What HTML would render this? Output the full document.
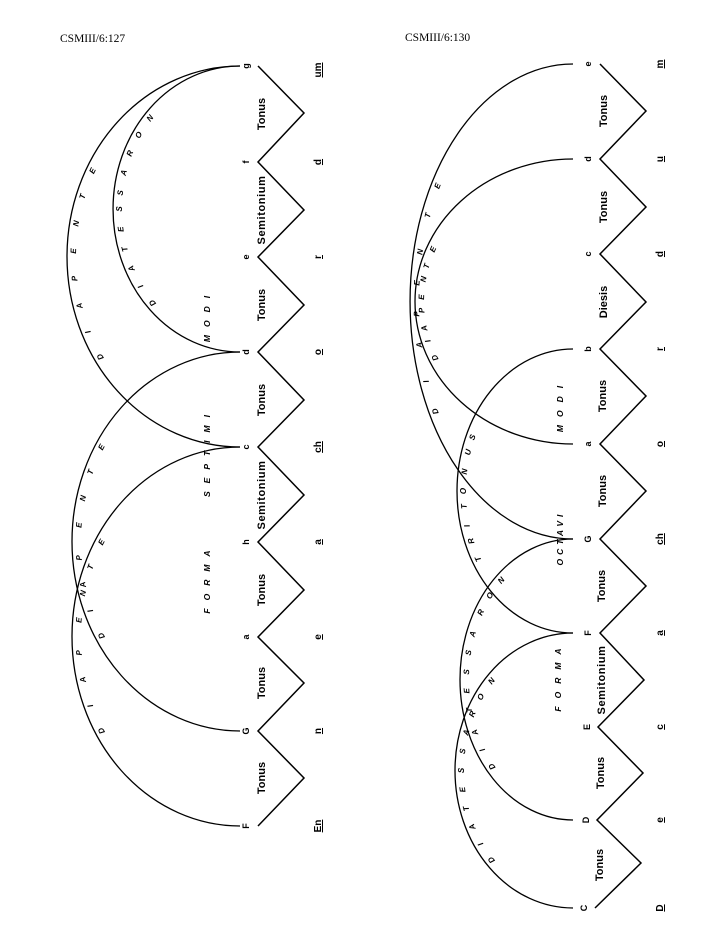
<!DOCTYPE html>
<html><head><meta charset="utf-8"><style>
html,body{margin:0;padding:0;background:#fff;}
svg{display:block}
.a{fill:none;stroke:#000;stroke-width:1.3}
.z{fill:none;stroke:#000;stroke-width:1.5}
.t{font-family:"Liberation Sans",sans-serif;font-weight:bold;font-size:11px;fill:#000}
.n{font-family:"Liberation Sans",sans-serif;font-weight:bold;font-size:9px;fill:#000}
.b{font-family:"Liberation Sans",sans-serif;font-weight:bold;font-size:10px;fill:#000;text-decoration:underline}
.l{font-family:"Liberation Sans",sans-serif;font-weight:bold;font-style:italic;font-size:8px;fill:#000}
.w{font-family:"Liberation Sans",sans-serif;font-weight:bold;font-style:italic;font-size:8.5px;fill:#000;letter-spacing:8px}
.h{font-family:"Liberation Serif",serif;font-size:11.5px;fill:#000}
</style></head><body>
<svg width="720" height="936" viewBox="0 0 720 936" xmlns="http://www.w3.org/2000/svg">
<defs>
<path id="p1" d="M240,826 A168,189.5 0 0 1 240,447"/>
<path id="p2" d="M240,731 A168,189.5 0 0 1 240,352"/>
<path id="p3" d="M240,447 A173,190.5 0 0 1 240,66"/>
<path id="p4" d="M240,352 A127,143 0 0 1 240,66"/>
<path id="q1" d="M573,539 A163,237.5 0 0 1 573,64"/>
<path id="q2" d="M573,444 A158,142.5 0 0 1 573,159"/>
<path id="q3" d="M573,633 A116,142 0 0 1 573,349"/>
<path id="q4" d="M573,820 A113,140.5 0 0 1 573,539"/>
<path id="q5" d="M573,908 A118,137.5 0 0 1 573,633"/>
</defs>
<text class="h" x="60" y="42">CSMIII/6:127</text>
<text class="h" x="405" y="41">CSMIII/6:130</text>

<use href="#p1" class="a"/><use href="#p2" class="a"/><use href="#p3" class="a"/><use href="#p4" class="a"/>
<use href="#q1" class="a"/><use href="#q2" class="a"/><use href="#q3" class="a"/><use href="#q4" class="a"/><use href="#q5" class="a"/>

<polyline class="z" points="258,66 304,113 258,162 304,210 258,257 304,305 258,352 304,400 258,447 304,495 258,542 304,590 258,637 304,683 258,731 304,778 258,826"/>
<polyline class="z" points="600,64 646,111 600,159 646,207 600,254 646,302 600,349 646,396 600,444 646,491 600,539 646,586 600,633 644,680 598,727 643,773 597,820 641,863 595,908"/>

<g class="l" text-anchor="middle">
<text dy="9"><textPath href="#p1" startOffset="32%">D</textPath></text><text dy="9"><textPath href="#p1" startOffset="37%">I</textPath></text><text dy="9"><textPath href="#p1" startOffset="42%">A</textPath></text><text dy="9"><textPath href="#p1" startOffset="47%">P</textPath></text><text dy="9"><textPath href="#p1" startOffset="53%">E</textPath></text><text dy="9"><textPath href="#p1" startOffset="58%">N</textPath></text><text dy="9"><textPath href="#p1" startOffset="63%">T</textPath></text><text dy="9"><textPath href="#p1" startOffset="68%">E</textPath></text>
<text dy="9"><textPath href="#p2" startOffset="32%">D</textPath></text><text dy="9"><textPath href="#p2" startOffset="37%">I</textPath></text><text dy="9"><textPath href="#p2" startOffset="42%">A</textPath></text><text dy="9"><textPath href="#p2" startOffset="47%">P</textPath></text><text dy="9"><textPath href="#p2" startOffset="53%">E</textPath></text><text dy="9"><textPath href="#p2" startOffset="58%">N</textPath></text><text dy="9"><textPath href="#p2" startOffset="63%">T</textPath></text><text dy="9"><textPath href="#p2" startOffset="68%">E</textPath></text>
<text dy="9"><textPath href="#p3" startOffset="31%">D</textPath></text><text dy="9"><textPath href="#p3" startOffset="36%">I</textPath></text><text dy="9"><textPath href="#p3" startOffset="41%">A</textPath></text><text dy="9"><textPath href="#p3" startOffset="46%">P</textPath></text><text dy="9"><textPath href="#p3" startOffset="51%">E</textPath></text><text dy="9"><textPath href="#p3" startOffset="56%">N</textPath></text><text dy="9"><textPath href="#p3" startOffset="61%">T</textPath></text><text dy="9"><textPath href="#p3" startOffset="66%">E</textPath></text>
<text dy="9"><textPath href="#p4" startOffset="25%">D</textPath></text><text dy="9"><textPath href="#p4" startOffset="30%">I</textPath></text><text dy="9"><textPath href="#p4" startOffset="35%">A</textPath></text><text dy="9"><textPath href="#p4" startOffset="40%">T</textPath></text><text dy="9"><textPath href="#p4" startOffset="45%">E</textPath></text><text dy="9"><textPath href="#p4" startOffset="50%">S</textPath></text><text dy="9"><textPath href="#p4" startOffset="54%">S</textPath></text><text dy="9"><textPath href="#p4" startOffset="59%">A</textPath></text><text dy="9"><textPath href="#p4" startOffset="64%">R</textPath></text><text dy="9"><textPath href="#p4" startOffset="69%">O</textPath></text><text dy="9"><textPath href="#p4" startOffset="74%">N</textPath></text>
<text dy="9"><textPath href="#q1" startOffset="32%">D</textPath></text><text dy="9"><textPath href="#q1" startOffset="37%">I</textPath></text><text dy="9"><textPath href="#q1" startOffset="43%">A</textPath></text><text dy="9"><textPath href="#q1" startOffset="48%">P</textPath></text><text dy="9"><textPath href="#q1" startOffset="53%">E</textPath></text><text dy="9"><textPath href="#q1" startOffset="58%">N</textPath></text><text dy="9"><textPath href="#q1" startOffset="64%">T</textPath></text><text dy="9"><textPath href="#q1" startOffset="69%">E</textPath></text>
<text dy="9"><textPath href="#q2" startOffset="37%">D</textPath></text><text dy="9"><textPath href="#q2" startOffset="41%">I</textPath></text><text dy="9"><textPath href="#q2" startOffset="44%">A</textPath></text><text dy="9"><textPath href="#q2" startOffset="48%">P</textPath></text><text dy="9"><textPath href="#q2" startOffset="51%">E</textPath></text><text dy="9"><textPath href="#q2" startOffset="55%">N</textPath></text><text dy="9"><textPath href="#q2" startOffset="58%">T</textPath></text><text dy="9"><textPath href="#q2" startOffset="62%">E</textPath></text>
<text dy="9"><textPath href="#q3" startOffset="32%">T</textPath></text><text dy="9"><textPath href="#q3" startOffset="37%">R</textPath></text><text dy="9"><textPath href="#q3" startOffset="41%">I</textPath></text><text dy="9"><textPath href="#q3" startOffset="46%">T</textPath></text><text dy="9"><textPath href="#q3" startOffset="50%">O</textPath></text><text dy="9"><textPath href="#q3" startOffset="55%">N</textPath></text><text dy="9"><textPath href="#q3" startOffset="60%">U</textPath></text><text dy="9"><textPath href="#q3" startOffset="64%">S</textPath></text>
<text dy="9"><textPath href="#q4" startOffset="26%">D</textPath></text><text dy="9"><textPath href="#q4" startOffset="31%">I</textPath></text><text dy="9"><textPath href="#q4" startOffset="36%">A</textPath></text><text dy="9"><textPath href="#q4" startOffset="42%">T</textPath></text><text dy="9"><textPath href="#q4" startOffset="47%">E</textPath></text><text dy="9"><textPath href="#q4" startOffset="52%">S</textPath></text><text dy="9"><textPath href="#q4" startOffset="57%">S</textPath></text><text dy="9"><textPath href="#q4" startOffset="62%">A</textPath></text><text dy="9"><textPath href="#q4" startOffset="68%">R</textPath></text><text dy="9"><textPath href="#q4" startOffset="73%">O</textPath></text><text dy="9"><textPath href="#q4" startOffset="78%">N</textPath></text>
<text dy="9"><textPath href="#q5" startOffset="25%">D</textPath></text><text dy="9"><textPath href="#q5" startOffset="30%">I</textPath></text><text dy="9"><textPath href="#q5" startOffset="35%">A</textPath></text><text dy="9"><textPath href="#q5" startOffset="40%">T</textPath></text><text dy="9"><textPath href="#q5" startOffset="45%">E</textPath></text><text dy="9"><textPath href="#q5" startOffset="50%">S</textPath></text><text dy="9"><textPath href="#q5" startOffset="55%">S</textPath></text><text dy="9"><textPath href="#q5" startOffset="60%">A</textPath></text><text dy="9"><textPath href="#q5" startOffset="65%">R</textPath></text><text dy="9"><textPath href="#q5" startOffset="70%">O</textPath></text><text dy="9"><textPath href="#q5" startOffset="75%">N</textPath></text>
</g>

<g class="n" text-anchor="middle" dominant-baseline="central">
<text transform="rotate(-90 246 66)" x="246" y="66">g</text>
<text transform="rotate(-90 246 162)" x="246" y="162">f</text>
<text transform="rotate(-90 246 257)" x="246" y="257">e</text>
<text transform="rotate(-90 246 352)" x="246" y="352">d</text>
<text transform="rotate(-90 246 447)" x="246" y="447">c</text>
<text transform="rotate(-90 246 542)" x="246" y="542">h</text>
<text transform="rotate(-90 246 637)" x="246" y="637">a</text>
<text transform="rotate(-90 246 731)" x="246" y="731">G</text>
<text transform="rotate(-90 246 826)" x="246" y="826">F</text>
<text transform="rotate(-90 588 64)" x="588" y="64">e</text>
<text transform="rotate(-90 588 159)" x="588" y="159">d</text>
<text transform="rotate(-90 588 254)" x="588" y="254">c</text>
<text transform="rotate(-90 588 349)" x="588" y="349">b</text>
<text transform="rotate(-90 588 444)" x="588" y="444">a</text>
<text transform="rotate(-90 588 539)" x="588" y="539">G</text>
<text transform="rotate(-90 588 633)" x="588" y="633">F</text>
<text transform="rotate(-90 587 727)" x="587" y="727">E</text>
<text transform="rotate(-90 586 820)" x="586" y="820">D</text>
<text transform="rotate(-90 584 908)" x="584" y="908">C</text>
</g>

<g class="t" text-anchor="middle" dominant-baseline="central">
<text transform="rotate(-90 262 114)" x="262" y="114">Tonus</text>
<text transform="rotate(-90 262 210)" x="262" y="210" letter-spacing="0.6">Semitonium</text>
<text transform="rotate(-90 262 305)" x="262" y="305">Tonus</text>
<text transform="rotate(-90 262 400)" x="262" y="400">Tonus</text>
<text transform="rotate(-90 262 495)" x="262" y="495" letter-spacing="0.6">Semitonium</text>
<text transform="rotate(-90 262 590)" x="262" y="590">Tonus</text>
<text transform="rotate(-90 262 683)" x="262" y="683">Tonus</text>
<text transform="rotate(-90 262 778)" x="262" y="778">Tonus</text>
<text transform="rotate(-90 604 111)" x="604" y="111">Tonus</text>
<text transform="rotate(-90 604 207)" x="604" y="207">Tonus</text>
<text transform="rotate(-90 604 302)" x="604" y="302">Diesis</text>
<text transform="rotate(-90 603 396)" x="603" y="396">Tonus</text>
<text transform="rotate(-90 603 491)" x="603" y="491">Tonus</text>
<text transform="rotate(-90 602 586)" x="602" y="586">Tonus</text>
<text transform="rotate(-90 602 680)" x="602" y="680" letter-spacing="0.6">Semitonium</text>
<text transform="rotate(-90 601 773)" x="601" y="773">Tonus</text>
<text transform="rotate(-90 600 865)" x="600" y="865">Tonus</text>
</g>

<g class="b" text-anchor="middle">
<text transform="rotate(-90 321 70)" x="321" y="70">um</text>
<text transform="rotate(-90 321 162)" x="321" y="162">d</text>
<text transform="rotate(-90 321 257)" x="321" y="257">r</text>
<text transform="rotate(-90 321 352)" x="321" y="352">o</text>
<text transform="rotate(-90 321 447)" x="321" y="447">ch</text>
<text transform="rotate(-90 321 542)" x="321" y="542">a</text>
<text transform="rotate(-90 321 637)" x="321" y="637">e</text>
<text transform="rotate(-90 321 731)" x="321" y="731">n</text>
<text transform="rotate(-90 321 826)" x="321" y="826">En</text>
<text transform="rotate(-90 663 64)" x="663" y="64">m</text>
<text transform="rotate(-90 663 159)" x="663" y="159">u</text>
<text transform="rotate(-90 663 254)" x="663" y="254">d</text>
<text transform="rotate(-90 663 349)" x="663" y="349">r</text>
<text transform="rotate(-90 663 444)" x="663" y="444">o</text>
<text transform="rotate(-90 663 539)" x="663" y="539">ch</text>
<text transform="rotate(-90 663 633)" x="663" y="633">a</text>
<text transform="rotate(-90 663 727)" x="663" y="727">c</text>
<text transform="rotate(-90 663 820)" x="663" y="820">e</text>
<text transform="rotate(-90 663 908)" x="663" y="908">D</text>
</g>

<g class="w" text-anchor="middle" dominant-baseline="central">
<text transform="rotate(-90 207 578)" x="207" y="578">FORMA</text>
<text transform="rotate(-90 207 452)" x="207" y="452">SEPTIMI</text>
<text transform="rotate(-90 207 315)" x="207" y="315">MODI</text>
<text transform="rotate(-90 560 405)" x="560" y="405">MODI</text>
<text transform="rotate(-90 560 538)" x="560" y="538" letter-spacing="4">OCTAVI</text>
<text transform="rotate(-90 558 676)" x="558" y="676">FORMA</text>
</g>
</svg>
</body></html>
